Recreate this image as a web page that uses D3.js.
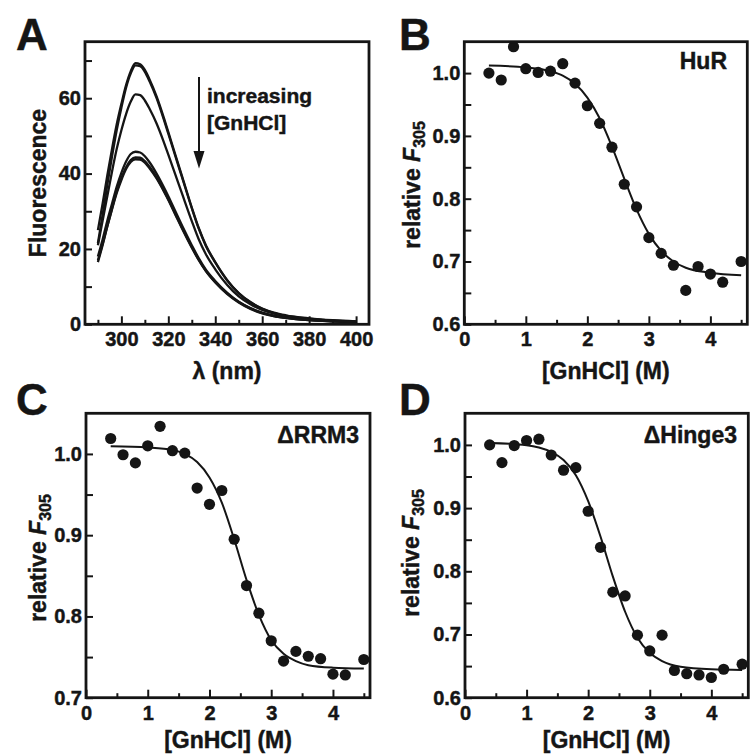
<!DOCTYPE html>
<html><head><meta charset="utf-8">
<script src="https://cdn.jsdelivr.net/npm/d3@7"></script>
<style>
body{margin:0;background:#fff}
svg text{font-family:"Liberation Sans",Arial,Helvetica,sans-serif;font-weight:bold;stroke:#151515;stroke-width:0.45px}
</style>
</head><body>
<svg id="fig" width="750" height="755"></svg>
<script>
// ---------- Panel A: emission spectra ----------
const wavelength = [290,292,294,296,298,300,302,304,306,308,310,312,315,318,320,323,326,330,333,336,340,345,350,355,360,365,370,380,390,400];
const spectrum1 = [25,32,39.5,46.5,53,58.5,63.5,67.2,69.3,69.0,67.5,65,60.5,55,51,45,39,31,25.5,21,16.5,11.8,8.3,5.9,4.2,3.1,2.4,1.6,1.1,0.8];
const spectrum2 = [21.5,29,37,44.5,51.5,57.5,62.8,66.6,68.7,68.5,67,64.5,60,54.5,50.6,44.6,38.7,30.8,25.3,20.8,16.4,11.7,8.2,5.8,4.1,3.0,2.3,1.5,1.0,0.7];
const spectrum3 = [21,27.5,34,40.5,46.5,51.5,55.8,59.1,61,60.8,59.4,57.2,53.3,48.5,45,39.7,34.4,27.4,22.5,18.6,14.6,10.5,7.4,5.3,3.8,2.8,2.1,1.4,1.0,0.7];
const spectrum4 = [18,22.5,27.5,32,36.5,40.2,43.2,45.2,45.8,45.6,44.6,43,40,36.5,34,30,26,21,17.5,14.5,11.5,8.4,6.0,4.3,3.1,2.3,1.8,1.2,0.8,0.6];
const spectrum5 = [16.5,21,26,30.7,35.2,38.8,41.7,43.6,44.3,44.2,43.3,41.8,39,35.6,33.2,29.3,25.4,20.5,17.1,14.2,11.2,8.2,5.9,4.2,3.0,2.2,1.7,1.1,0.8,0.6];
const spectrum6 = [17,21.3,26,30.5,34.8,38.3,41.2,43.1,43.8,43.7,42.9,41.4,38.7,35.4,33,29.1,25.2,20.3,17,14.1,11.1,8.1,5.8,4.1,2.9,2.2,1.7,1.1,0.8,0.6];
const spectra = [spectrum1, spectrum2, spectrum3, spectrum4, spectrum5, spectrum6];

const wlTicks = [300,320,340,360,380,400];
const wlMinor = [290,310,330,350,370,390];
const fluorTicks = [0,20,40,60];
const fluorMinor = [10,30,50,70];

// ---------- Panels B-D: GnHCl denaturation ----------
const gnhcl = [0.4,0.6,0.8,1.0,1.2,1.4,1.6,1.8,2.0,2.2,2.4,2.6,2.8,3.0,3.2,3.4,3.6,3.8,4.0,4.2,4.5];
const hurF305 = [1.0,0.989,1.042,1.007,1.001,1.003,1.015,0.984,0.948,0.920,0.882,0.823,0.787,0.738,0.713,0.694,0.654,0.692,0.680,0.667,0.700];
const drrm3F305 = [1.019,0.999,0.989,1.010,1.034,1.004,1.001,0.958,0.938,0.955,0.895,0.838,0.804,0.770,0.745,0.757,0.751,0.748,0.729,0.728,0.747];
const dhinge3F305 = [1.0,0.972,0.999,1.007,1.009,0.984,0.960,0.964,0.895,0.838,0.767,0.761,0.699,0.674,0.699,0.643,0.638,0.636,0.632,0.645,0.653];

const hurFitX = [0.4,1.0,1.4,1.6,1.8,2.0,2.2,2.4,2.6,2.8,3.0,3.2,3.4,3.6,4.0,4.5];
const hurFitY = [1.012,1.009,1.003,0.996,0.983,0.961,0.928,0.883,0.832,0.783,0.744,0.717,0.700,0.690,0.682,0.678];
const drrm3FitX = [0.4,1.0,1.4,1.6,1.8,2.0,2.2,2.4,2.6,2.8,3.0,3.2,3.4,3.6,4.0,4.5];
const drrm3FitY = [1.0095,1.008,1.005,1.000,0.990,0.971,0.940,0.895,0.845,0.802,0.771,0.754,0.745,0.740,0.737,0.736];
const dhinge3FitX = [0.4,1.0,1.2,1.4,1.6,1.8,2.0,2.2,2.4,2.6,2.8,3.0,3.2,3.5,4.0,4.5];
const dhinge3FitY = [1.003,0.9996,0.996,0.989,0.976,0.952,0.911,0.855,0.792,0.736,0.695,0.671,0.658,0.649,0.645,0.644];

const gnTicks = [0,1,2,3,4];
const gnMinor = [0.5,1.5,2.5,3.5,4.5];
const relTicks1 = [0.6,0.7,0.8,0.9,1.0];
const relMinor1 = [0.65,0.75,0.85,0.95];
const relTicks2 = [0.7,0.8,0.9,1.0];
const relMinor2 = [0.75,0.85,0.95];

// ---------- drawing ----------
const svg = d3.select('#fig');
const INK = '#151515';

function panel(cfg){
  const x = d3.scaleLinear().domain(cfg.xDomain).range([cfg.left, cfg.right]);
  const y = d3.scaleLinear().domain(cfg.yDomain).range([cfg.bottom, cfg.top]);
  const g = svg.append('g');

  function styleAxis(sel){
    sel.attr('font-size', 20).attr('color', INK);
    sel.select('.domain').remove();
    sel.selectAll('.tick line').attr('stroke-width', 2);
  }
  g.append('g').attr('transform', `translate(0,${cfg.bottom})`)
    .call(d3.axisBottom(x).tickValues(cfg.xMinor).tickSize(-4.5).tickFormat(''))
    .call(styleAxis);
  g.append('g').attr('transform', `translate(0,${cfg.bottom})`)
    .call(d3.axisBottom(x).tickValues(cfg.xMajor).tickSize(-8).tickPadding(8).tickFormat(cfg.xFmt))
    .call(styleAxis);
  g.append('g').attr('transform', `translate(${cfg.left},0)`)
    .call(d3.axisLeft(y).tickValues(cfg.yMinor).tickSize(-7).tickFormat(''))
    .call(styleAxis);
  g.append('g').attr('transform', `translate(${cfg.left},0)`)
    .call(d3.axisLeft(y).tickValues(cfg.yMajor).tickSize(-7).tickPadding(4).tickFormat(cfg.yFmt))
    .call(styleAxis);

  cfg.draw(g, x, y);

  g.append('rect')
    .attr('x', cfg.left).attr('y', cfg.top)
    .attr('width', cfg.right - cfg.left).attr('height', cfg.bottom - cfg.top)
    .attr('fill', 'none').attr('stroke', INK).attr('stroke-width', 2.8);

  g.append('text').attr('x', cfg.letterX).attr('y', cfg.letterY)
    .attr('font-size', 44).attr('fill', INK).text(cfg.letter);

  g.append('text').attr('x', (cfg.left + cfg.right) / 2).attr('y', cfg.xTitleY)
    .attr('text-anchor', 'middle').attr('font-size', 23).attr('fill', INK).text(cfg.xTitle);

  const yt = g.append('text')
    .attr('transform', `translate(${cfg.yTitleX},${cfg.yTitleCY}) rotate(-90)`)
    .attr('text-anchor', 'middle').attr('font-size', 23).attr('fill', INK);
  if (cfg.yTitle === 'F305') {
    yt.append('tspan').text('relative ');
    yt.append('tspan').attr('font-style', 'italic').text('F');
    yt.append('tspan').attr('font-size', 16).attr('dy', 5).text('305');
  } else {
    yt.text(cfg.yTitle);
  }

  if (cfg.label) {
    g.append('text').attr('x', cfg.labelX).attr('y', cfg.labelY)
      .attr('text-anchor', 'end').attr('font-size', 23).attr('fill', INK).text(cfg.label);
  }
}

function drawDenat(values, fitX, fitY){
  return function(g, x, y){
    const fit = fitX.map((v, i) => [v, fitY[i]]);
    g.append('path').datum(fit)
      .attr('fill', 'none').attr('stroke', INK).attr('stroke-width', 2)
      .attr('d', d3.line().x(d => x(d[0])).y(d => y(d[1])).curve(d3.curveMonotoneX));
    g.selectAll('circle.pt').data(gnhcl.map((v, i) => [v, values[i]])).enter()
      .append('circle').attr('class', 'pt')
      .attr('cx', d => x(d[0])).attr('cy', d => y(d[1])).attr('r', 5.6)
      .attr('fill', INK);
  };
}

const fmt1 = d3.format('.1f');

panel({
  letter: 'A', letterX: 16, letterY: 50,
  left: 85, right: 369, top: 41.7, bottom: 324.3,
  xDomain: [284.5, 405.5], yDomain: [0, 75],
  xMajor: wlTicks, xMinor: wlMinor, yMajor: fluorTicks, yMinor: fluorMinor,
  xFmt: d3.format('d'), yFmt: d3.format('d'),
  xTitle: 'λ (nm)', xTitleY: 379,
  yTitle: 'Fluorescence', yTitleX: 46, yTitleCY: 183,
  draw: function(g, x, y){
    const line = d3.line().x((d, i) => x(wavelength[i])).y(d => y(d)).curve(d3.curveMonotoneX);
    g.selectAll('path.spec').data(spectra).enter().append('path').attr('class', 'spec')
      .attr('fill', 'none').attr('stroke', INK).attr('stroke-width', 2.3)
      .attr('d', line);
    g.append('line').attr('x1', 199).attr('y1', 77).attr('x2', 199).attr('y2', 153)
      .attr('stroke', INK).attr('stroke-width', 2);
    g.append('path').attr('d', 'M193.5,151 L204.5,151 L199,168.5 Z').attr('fill', INK);
    g.append('text').attr('x', 207).attr('y', 103).attr('font-size', 21).attr('fill', INK).text('increasing');
    g.append('text').attr('x', 207).attr('y', 130).attr('font-size', 21).attr('fill', INK).text('[GnHCl]');
  }
});

panel({
  letter: 'B', letterX: 399, letterY: 50,
  left: 464.3, right: 747.3, top: 41.7, bottom: 324.3,
  xDomain: [0, 4.6], yDomain: [0.6, 1.05],
  xMajor: gnTicks, xMinor: gnMinor, yMajor: relTicks1, yMinor: relMinor1,
  xFmt: d3.format('d'), yFmt: fmt1,
  xTitle: '[GnHCl] (M)', xTitleY: 379,
  yTitle: 'F305', yTitleX: 420, yTitleCY: 185,
  label: 'HuR', labelX: 727, labelY: 69,
  draw: drawDenat(hurF305, hurFitX, hurFitY)
});

panel({
  letter: 'C', letterX: 16, letterY: 415,
  left: 86, right: 370, top: 413.3, bottom: 697.7,
  xDomain: [0, 4.6], yDomain: [0.7, 1.05],
  xMajor: gnTicks, xMinor: gnMinor, yMajor: relTicks2, yMinor: relMinor2,
  xFmt: d3.format('d'), yFmt: fmt1,
  xTitle: '[GnHCl] (M)', xTitleY: 748,
  yTitle: 'F305', yTitleX: 46, yTitleCY: 558,
  label: 'ΔRRM3', labelX: 359, labelY: 443,
  draw: drawDenat(drrm3F305, drrm3FitX, drrm3FitY)
});

panel({
  letter: 'D', letterX: 399, letterY: 415,
  left: 465, right: 748.3, top: 413.3, bottom: 697.7,
  xDomain: [0, 4.6], yDomain: [0.6, 1.05],
  xMajor: gnTicks, xMinor: gnMinor, yMajor: relTicks1, yMinor: relMinor1,
  xFmt: d3.format('d'), yFmt: fmt1,
  xTitle: '[GnHCl] (M)', xTitleY: 748,
  yTitle: 'F305', yTitleX: 419, yTitleCY: 553,
  label: 'ΔHinge3', labelX: 737, labelY: 443,
  draw: drawDenat(dhinge3F305, dhinge3FitX, dhinge3FitY)
});
</script>
</body></html>
